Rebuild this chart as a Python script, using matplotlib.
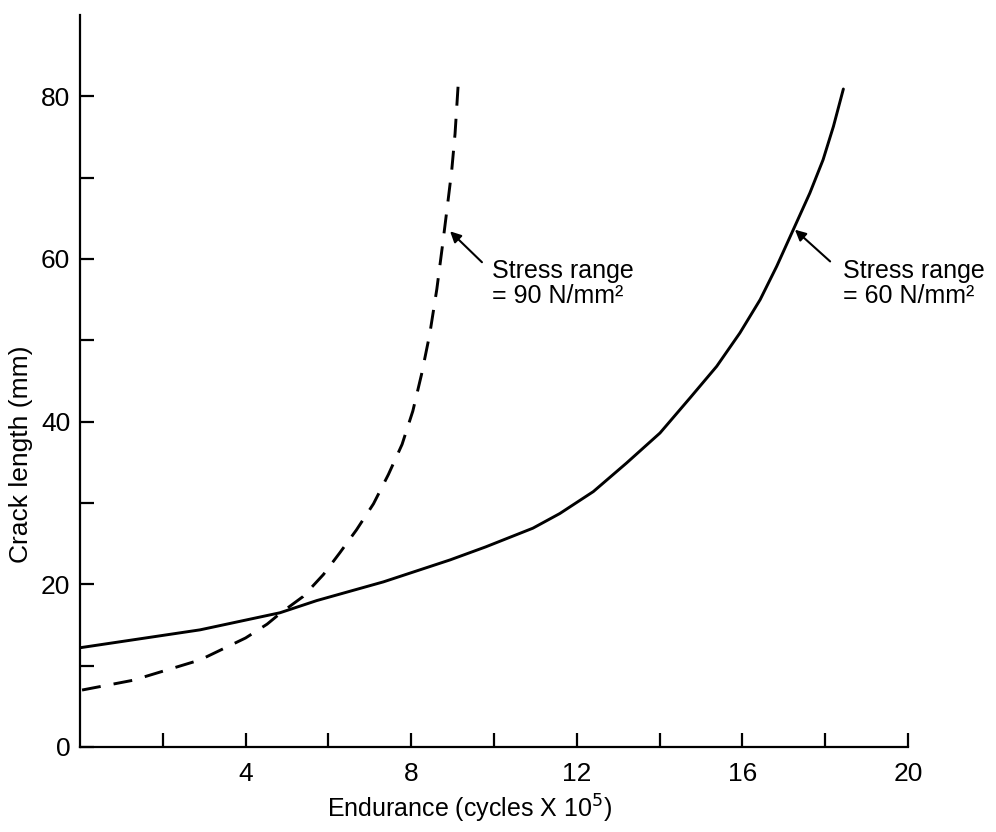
import matplotlib
matplotlib.use("Agg")
import matplotlib.pyplot as plt

# crack growth curves
endurance_60 = [0.0, 2.9, 4.83, 5.72, 7.33, 8.94, 9.8, 10.94, 11.59, 12.4, 13.2, 14.01, 14.75,
                15.38, 15.94, 16.43, 16.83, 17.23, 17.63, 17.95, 18.2, 18.44]
crack_60 = [12.2, 14.4, 16.5, 18.0, 20.3, 23.0, 24.6, 26.9, 28.7, 31.4, 34.9, 38.6, 43.0,
            46.8, 50.9, 55.0, 59.1, 63.6, 68.1, 72.2, 76.3, 80.9]

endurance_90 = [0.05, 1.28, 2.9, 4.0, 4.52, 4.83, 5.39, 5.88, 6.28, 6.68, 7.09, 7.45, 7.78,
                8.04, 8.25, 8.45, 8.62, 8.76, 8.87, 8.98, 9.06, 9.14]
crack_90 = [7.0, 8.2, 10.7, 13.4, 15.1, 16.4, 18.5, 21.2, 23.9, 26.7, 29.9, 33.5, 37.2,
            41.3, 45.8, 50.8, 56.3, 61.8, 66.3, 70.9, 75.4, 81.8]

x_major = [4, 8, 12, 16, 20]
x_minor = [2, 6, 10, 14, 18]
y_major = [0, 20, 40, 60, 80]
y_minor = [10, 30, 50, 70]

label_90 = "Stress range\n= 90 N/mm²"
label_60 = "Stress range\n= 60 N/mm²"

plt.rcParams['font.family'] = ['Liberation Sans', 'DejaVu Sans']

fig = plt.figure(figsize=(9.96, 8.32), dpi=100)
ax = fig.add_axes([0.0803, 0.1022, 0.8313, 0.8798])

ax.plot(endurance_60, crack_60, color='black', lw=2.1, solid_capstyle='round', solid_joinstyle='round')
ax.plot(endurance_90, crack_90, color='black', lw=2.1, ls=(0, (6.5, 4.5)))

ax.set_xlim(0, 20)
ax.set_ylim(0, 90)

ax.spines['top'].set_visible(False)
ax.spines['right'].set_visible(False)
ax.spines['left'].set_linewidth(1.6)
ax.spines['bottom'].set_linewidth(1.6)

ax.set_xticks(x_major)
ax.set_xticks(x_minor, minor=True)
ax.set_yticks(y_major)
ax.set_yticks(y_minor, minor=True)
ax.tick_params(axis='both', which='both', direction='in', length=10, width=1.6)
ax.tick_params(axis='x', which='major', labelsize=19, pad=11)
ax.tick_params(axis='y', which='major', labelsize=19, pad=7)

ax.set_xlabel("Endurance (cycles X 10$^5$)", fontsize=18)
ax.xaxis.set_label_coords(0.47, -0.062)
ax.set_ylabel("Crack length (mm)", fontsize=19)
ax.yaxis.set_label_coords(-0.057, 0.40)

# arrows pointing at each curve
ax.annotate("", xy=(8.94, 63.4), xytext=(9.71, 59.6),
            arrowprops=dict(arrowstyle='-|>', color='black', lw=1.5, mutation_scale=16, shrinkA=0, shrinkB=0))
ax.annotate("", xy=(17.27, 63.6), xytext=(18.12, 59.7),
            arrowprops=dict(arrowstyle='-|>', color='black', lw=1.5, mutation_scale=16, shrinkA=0, shrinkB=0))

ax.text(9.95, 57.0, label_90, fontsize=18, ha='left', va='center', linespacing=1.05)
ax.text(18.43, 57.0, label_60, fontsize=18, ha='left', va='center', linespacing=1.05)

fig.savefig("out.png", dpi=100)
